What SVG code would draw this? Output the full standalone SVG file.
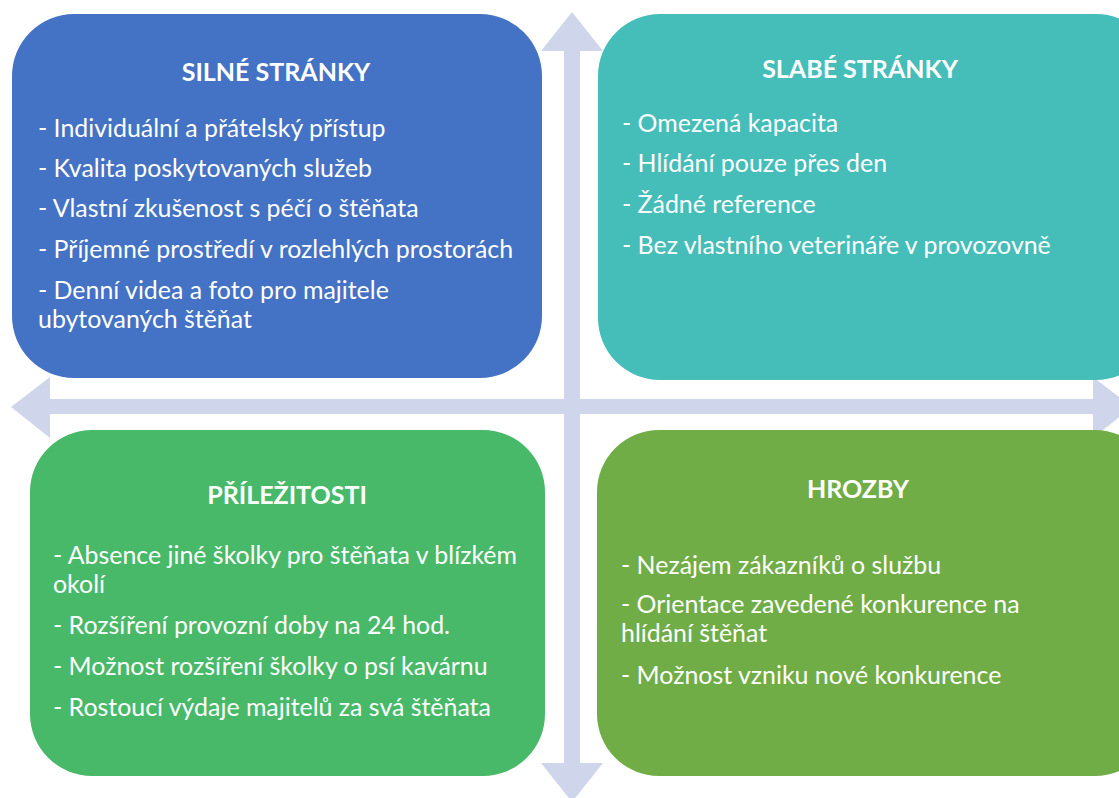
<svg xmlns="http://www.w3.org/2000/svg" width="1119" height="798" viewBox="0 0 1119 798">
<style>
.t{font-family:Lato,"Open Sans","Noto Sans",sans-serif;font-weight:bold;font-size:25px;fill:#fff;text-anchor:middle}
.b{font-family:Lato,"Open Sans","Noto Sans",sans-serif;font-size:24.9px;fill:#fff}
.ar{fill:#CFD5EA}
</style>
<rect width="1119" height="798" fill="#fff"/>
<g id="connectors">
<polygon class="ar" points="564,51 541,51 572,12 603,51 580,51 580,763 603,763 572,802 541,763 564,763"/>
<polygon class="ar" points="50,399 50,377 11,407 50,438 50,414 1093,414 1093,438 1132,407 1093,377 1093,399"/>
</g>
<g id="strengths">
<rect x="12" y="14" width="530" height="364" rx="62" fill="#4472C4"/>
<text class="t" x="276" y="81">SILNÉ STRÁNKY</text>
<text class="b" x="38" y="137">- Individuální a přátelský přístup</text>
<text class="b" x="38" y="177">- Kvalita poskytovaných služeb</text>
<text class="b" x="38" y="217">- Vlastní zkušenost s péčí o štěňata</text>
<text class="b" x="38" y="258">- Příjemné prostředí v rozlehlých prostorách</text>
<text class="b" x="38" y="299">- Denní videa a foto pro majitele</text>
<text class="b" x="38" y="328">ubytovaných štěňat</text>
</g>
<g id="weaknesses">
<rect x="598" y="14" width="560" height="366" rx="62" fill="#45BDB9"/>
<text class="t" x="860" y="78">SLABÉ STRÁNKY</text>
<text class="b" x="622" y="132">- Omezená kapacita</text>
<text class="b" x="622" y="172">- Hlídání pouze přes den</text>
<text class="b" x="622" y="213">- Žádné reference</text>
<text class="b" x="622" y="254">- Bez vlastního veterináře v provozovně</text>
</g>
<g id="opportunities">
<rect x="30" y="430" width="515" height="346" rx="62" fill="#48B969"/>
<text class="t" x="287" y="504">PŘÍLEŽITOSTI</text>
<text class="b" x="53" y="564">- Absence jiné školky pro štěňata v blízkém</text>
<text class="b" x="53" y="593">okolí</text>
<text class="b" x="53" y="634">- Rozšíření provozní doby na 24 hod.</text>
<text class="b" x="53" y="675">- Možnost rozšíření školky o psí kavárnu</text>
<text class="b" x="53" y="716">- Rostoucí výdaje majitelů za svá štěňata</text>
</g>
<g id="threats">
<rect x="597" y="430" width="560" height="346" rx="62" fill="#70AD47"/>
<text class="t" x="858" y="498">HROZBY</text>
<text class="b" x="621" y="574">- Nezájem zákazníků o službu</text>
<text class="b" x="621" y="613">- Orientace zavedené konkurence na</text>
<text class="b" x="621" y="642">hlídání štěňat</text>
<text class="b" x="621" y="684">- Možnost vzniku nové konkurence</text>
</g>
</svg>
